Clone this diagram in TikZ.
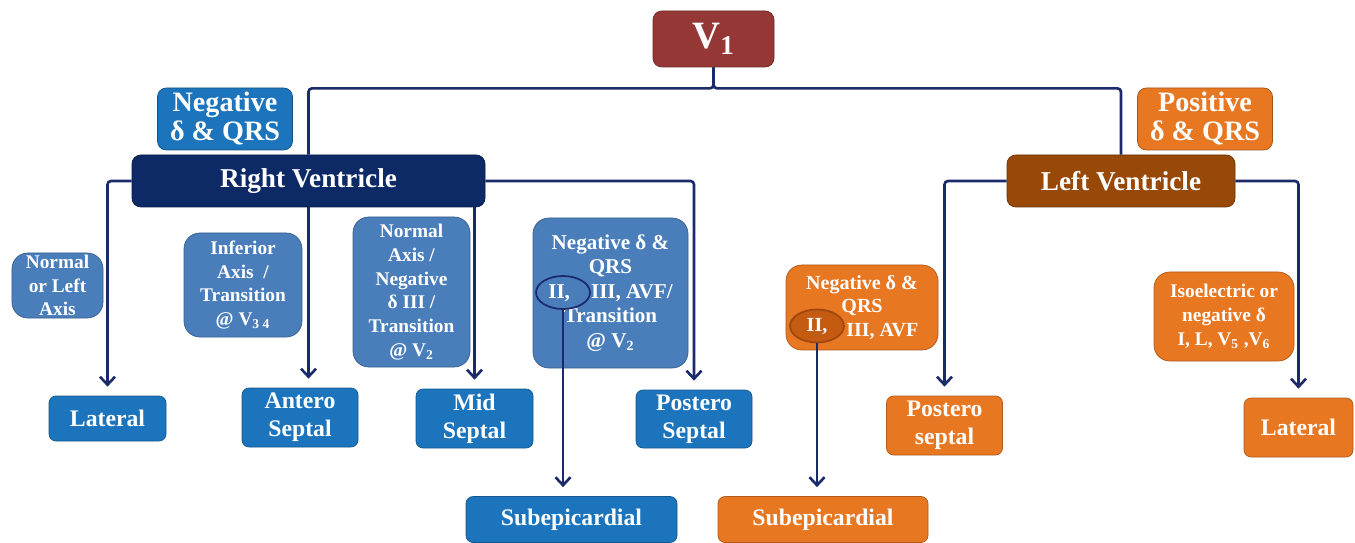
\documentclass[tikz,border=0pt]{standalone}
\usepackage{fontspec}
\setmainfont{Liberation Serif}
\usetikzlibrary{positioning, arrows.meta, shapes.geometric}
\definecolor{ecgred}{HTML}{953735}
\definecolor{ecgnavy}{HTML}{0D2A66}
\definecolor{ecgbrown}{HTML}{984807}
\definecolor{ecgblue}{HTML}{1C75BC}
\definecolor{ecgsteel}{HTML}{4A7EBB}
\definecolor{ecgorange}{HTML}{E87722}
\definecolor{ecgdark}{HTML}{C55A11}
\definecolor{ecgline}{HTML}{1B2A6A}

\begin{document}
\begin{tikzpicture}[
      every node/.style={text=white, align=center, inner sep=1pt},
      hdr/.style={draw=#1!70!black, fill=#1, rounded corners=5pt, font=\fontsize{15.5}{17}\selectfont\bfseries},
      tag/.style={draw=#1!70!black, fill=#1, rounded corners=5pt, minimum width=2.7cm, minimum height=1.24cm,
                  font=\fontsize{16}{16.5}\selectfont\bfseries},
      cond/.style={draw=#1!75!black, fill=#1, rounded corners=9pt, font=\fontsize{11}{13.5}\selectfont\bfseries},
      leaf/.style={draw=#1!75!black, fill=#1, rounded corners=4pt, font=\fontsize{13.5}{16}\selectfont\bfseries},
      ring/.style={ellipse, draw=#1, line width=1pt, minimum width=1.08cm, minimum height=0.66cm,
                   font=\fontsize{11.4}{13.5}\selectfont\bfseries},
      wire/.style={draw=ecgline, line width=1.5pt, rounded corners=2pt},
      arr/.style={wire, ->, shorten >=0.18cm},
      >={Straight Barb[length=1.6mm, width=3mm]},
    ]
    \useasboundingbox (0,0) rectangle (27.1,-10.86);

    % top
    \node[hdr=ecgred, minimum width=2.42cm, minimum height=1.12cm, font=\fontsize{22}{24}\selectfont\bfseries]
      (v1) at (14.27,-0.78) {V\textsubscript{1}};

    \node[tag=ecgblue] (neg) at (4.5,-2.38) {Negative\\δ \& QRS};
    \node[tag=ecgorange] (pos) at (24.1,-2.38) {Positive\\δ \& QRS};

    \node[hdr=ecgnavy, minimum width=7.06cm, minimum height=1.04cm] (rv) at (6.17,-3.62) {Right Ventricle};
    \node[hdr=ecgbrown, minimum width=4.56cm, minimum height=1.04cm] (lv) at (22.42,-3.62) {Left Ventricle};

    \draw[wire] (v1.south) -- ++(0,-0.42) -| (rv.north);
    \draw[wire] (v1.south) -- ++(0,-0.42) -| (lv.north);

    % criteria
    \node[cond=ecgsteel, minimum width=1.82cm, minimum height=1.3cm] (cl) at (1.15,-5.71)
      {Normal\\or Left\\Axis};
    \node[cond=ecgsteel, minimum width=2.36cm, minimum height=2.08cm] (cas) at (4.86,-5.7)
      {Inferior\\Axis~~/\\Transition\\@ V\textsubscript{3 4}};
    \node[cond=ecgsteel, minimum width=2.34cm, minimum height=3cm] (cms) at (8.23,-5.84)
      {Normal\\Axis /\\Negative\\δ III /\\Transition\\@ V\textsubscript{2}};
    \node[cond=ecgsteel, minimum width=3.1cm, minimum height=3cm, font=\fontsize{12}{14}\selectfont\bfseries]
      (cps) at (12.21,-5.86) {Negative δ \&\\QRS\\II,~~~~III, AVF/\\Transition\\@ V\textsubscript{2}};
    \node[cond=ecgorange, minimum width=3.04cm, minimum height=1.7cm, font=\fontsize{11.4}{13.5}\selectfont\bfseries]
      (cpl) at (17.24,-6.15) {Negative δ \&\\QRS\\\phantom{II,}~~~~III, AVF};
    \node[cond=ecgorange, minimum width=2.8cm, minimum height=1.78cm] (clr) at (24.48,-6.33)
      {Isoelectric or\\negative δ\\I, L, V\textsubscript{5} ,V\textsubscript{6}};

    \node[ring=ecgline] (er) at (11.26,-5.85) {};
    \node[ring=ecgdark!80!black, fill=ecgdark] (el) at (16.34,-6.52) {II,};

    % territories
    \node[leaf=ecgblue, minimum width=2.34cm, minimum height=0.9cm] (latr) at (2.15,-8.37) {Lateral};
    \node[leaf=ecgblue, minimum width=2.32cm, minimum height=1.18cm] (ants) at (6.0,-8.35) {Antero\\Septal};
    \node[leaf=ecgblue, minimum width=2.34cm, minimum height=1.18cm] (mids) at (9.49,-8.37) {Mid\\Septal};
    \node[leaf=ecgblue, minimum width=2.32cm, minimum height=1.16cm] (posts) at (13.88,-8.38) {Postero\\Septal};
    \node[leaf=ecgblue, minimum width=4.22cm, minimum height=0.92cm] (subr) at (11.43,-10.39) {Subepicardial};

    \node[leaf=ecgorange, minimum width=4.2cm, minimum height=0.92cm] (subl) at (16.46,-10.39) {Subepicardial};
    \node[leaf=ecgorange, minimum width=2.32cm, minimum height=1.18cm] (postl) at (18.89,-8.51) {Postero\\septal};
    \node[leaf=ecgorange, minimum width=2.18cm, minimum height=1.18cm] (latl) at (25.97,-8.55) {Lateral};

    \draw[arr] (rv.west) -| (latr.north);
    \draw[arr] (rv.south) -- (rv.south |- ants.north);
    \draw[arr] (rv.south -| mids.north) -- (mids.north);
    \draw[arr] (rv.east) -| (posts.north);
    \draw[arr] (er.south) -- (er.south |- subr.north);

    \draw[arr] (lv.west) -| (postl.north);
    \draw[arr] (lv.east) -| (latl.north);
    \draw[arr] (el.south) -- (el.south |- subl.north);
  \end{tikzpicture}
\end{document}
